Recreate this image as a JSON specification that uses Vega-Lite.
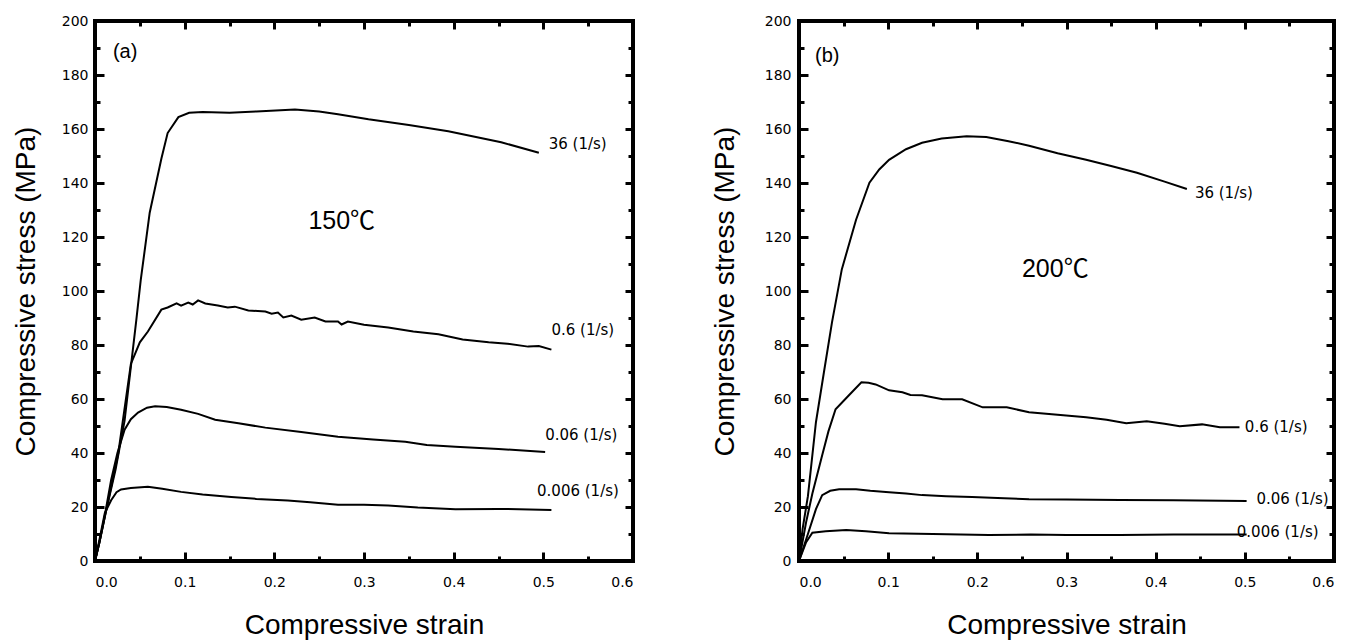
{
  "$schema": "https://vega.github.io/schema/vega-lite/v6.json",
  "background": "white",
  "padding": {"left": 10, "top": 12, "right": 5, "bottom": 0},
  "spacing": 72,
  "config": {
    "view": {"stroke": "black", "strokeWidth": 4},
    "font": "Liberation Sans",
    "axis": {"labelFont": "DejaVu Sans", "titleFont": "Liberation Sans", "labelColor": "black", "titleColor": "black", "tickColor": "black", "grid": false}
  },
  "datasets": {
    "a": [
      {"rate": "36", "strain": 0, "stress": 0}, {"rate": "36", "strain": 0.005, "stress": 7}, {"rate": "36", "strain": 0.012, "stress": 18}, {"rate": "36", "strain": 0.023, "stress": 34}, {"rate": "36", "strain": 0.033, "stress": 52}, {"rate": "36", "strain": 0.046, "stress": 89}, {"rate": "36", "strain": 0.051, "stress": 104}, {"rate": "36", "strain": 0.061, "stress": 129}, {"rate": "36", "strain": 0.074, "stress": 149}, {"rate": "36", "strain": 0.081, "stress": 158.5}, {"rate": "36", "strain": 0.093, "stress": 164.4}, {"rate": "36", "strain": 0.105, "stress": 166}, {"rate": "36", "strain": 0.12, "stress": 166.3}, {"rate": "36", "strain": 0.15, "stress": 166}, {"rate": "36", "strain": 0.18, "stress": 166.5}, {"rate": "36", "strain": 0.223, "stress": 167.2}, {"rate": "36", "strain": 0.25, "stress": 166.5}, {"rate": "36", "strain": 0.271, "stress": 165.5}, {"rate": "36", "strain": 0.305, "stress": 163.6}, {"rate": "36", "strain": 0.35, "stress": 161.5}, {"rate": "36", "strain": 0.394, "stress": 159.2}, {"rate": "36", "strain": 0.453, "stress": 155.1}, {"rate": "36", "strain": 0.495, "stress": 151.2},
      {"rate": "0.6", "strain": 0, "stress": 0}, {"rate": "0.6", "strain": 0.005, "stress": 7}, {"rate": "0.6", "strain": 0.012, "stress": 18}, {"rate": "0.6", "strain": 0.026, "stress": 40}, {"rate": "0.6", "strain": 0.04, "stress": 73}, {"rate": "0.6", "strain": 0.05, "stress": 81}, {"rate": "0.6", "strain": 0.059, "stress": 85}, {"rate": "0.6", "strain": 0.074, "stress": 93.1}, {"rate": "0.6", "strain": 0.081, "stress": 93.9}, {"rate": "0.6", "strain": 0.091, "stress": 95.4}, {"rate": "0.6", "strain": 0.096, "stress": 94.6}, {"rate": "0.6", "strain": 0.104, "stress": 95.7}, {"rate": "0.6", "strain": 0.109, "stress": 95}, {"rate": "0.6", "strain": 0.115, "stress": 96.5}, {"rate": "0.6", "strain": 0.123, "stress": 95.4}, {"rate": "0.6", "strain": 0.137, "stress": 94.6}, {"rate": "0.6", "strain": 0.148, "stress": 93.9}, {"rate": "0.6", "strain": 0.156, "stress": 94.2}, {"rate": "0.6", "strain": 0.171, "stress": 92.8}, {"rate": "0.6", "strain": 0.19, "stress": 92.4}, {"rate": "0.6", "strain": 0.197, "stress": 91.6}, {"rate": "0.6", "strain": 0.204, "stress": 92}, {"rate": "0.6", "strain": 0.21, "stress": 90.2}, {"rate": "0.6", "strain": 0.219, "stress": 90.9}, {"rate": "0.6", "strain": 0.23, "stress": 89.4}, {"rate": "0.6", "strain": 0.245, "stress": 90.2}, {"rate": "0.6", "strain": 0.257, "stress": 88.7}, {"rate": "0.6", "strain": 0.271, "stress": 88.7}, {"rate": "0.6", "strain": 0.275, "stress": 87.6}, {"rate": "0.6", "strain": 0.282, "stress": 88.7}, {"rate": "0.6", "strain": 0.3, "stress": 87.5}, {"rate": "0.6", "strain": 0.327, "stress": 86.5}, {"rate": "0.6", "strain": 0.355, "stress": 85}, {"rate": "0.6", "strain": 0.383, "stress": 84}, {"rate": "0.6", "strain": 0.41, "stress": 82}, {"rate": "0.6", "strain": 0.439, "stress": 81}, {"rate": "0.6", "strain": 0.46, "stress": 80.5}, {"rate": "0.6", "strain": 0.483, "stress": 79.4}, {"rate": "0.6", "strain": 0.495, "stress": 79.6}, {"rate": "0.6", "strain": 0.509, "stress": 78.3},
      {"rate": "0.06", "strain": 0, "stress": 0}, {"rate": "0.06", "strain": 0.005, "stress": 7}, {"rate": "0.06", "strain": 0.011, "stress": 17}, {"rate": "0.06", "strain": 0.018, "stress": 30}, {"rate": "0.06", "strain": 0.025, "stress": 40}, {"rate": "0.06", "strain": 0.033, "stress": 48.6}, {"rate": "0.06", "strain": 0.04, "stress": 52.5}, {"rate": "0.06", "strain": 0.048, "stress": 55}, {"rate": "0.06", "strain": 0.058, "stress": 56.8}, {"rate": "0.06", "strain": 0.067, "stress": 57.3}, {"rate": "0.06", "strain": 0.08, "stress": 57}, {"rate": "0.06", "strain": 0.096, "stress": 56}, {"rate": "0.06", "strain": 0.115, "stress": 54.5}, {"rate": "0.06", "strain": 0.134, "stress": 52.3}, {"rate": "0.06", "strain": 0.16, "stress": 51}, {"rate": "0.06", "strain": 0.19, "stress": 49.4}, {"rate": "0.06", "strain": 0.23, "stress": 47.8}, {"rate": "0.06", "strain": 0.271, "stress": 46}, {"rate": "0.06", "strain": 0.31, "stress": 45}, {"rate": "0.06", "strain": 0.346, "stress": 44.2}, {"rate": "0.06", "strain": 0.37, "stress": 43}, {"rate": "0.06", "strain": 0.402, "stress": 42.3}, {"rate": "0.06", "strain": 0.45, "stress": 41.5}, {"rate": "0.06", "strain": 0.502, "stress": 40.4},
      {"rate": "0.006", "strain": 0, "stress": 0}, {"rate": "0.006", "strain": 0.005, "stress": 8}, {"rate": "0.006", "strain": 0.011, "stress": 17.8}, {"rate": "0.006", "strain": 0.018, "stress": 22.5}, {"rate": "0.006", "strain": 0.024, "stress": 25.5}, {"rate": "0.006", "strain": 0.029, "stress": 26.5}, {"rate": "0.006", "strain": 0.04, "stress": 27}, {"rate": "0.006", "strain": 0.059, "stress": 27.5}, {"rate": "0.006", "strain": 0.075, "stress": 26.8}, {"rate": "0.006", "strain": 0.096, "stress": 25.6}, {"rate": "0.006", "strain": 0.12, "stress": 24.6}, {"rate": "0.006", "strain": 0.152, "stress": 23.7}, {"rate": "0.006", "strain": 0.18, "stress": 23}, {"rate": "0.006", "strain": 0.215, "stress": 22.4}, {"rate": "0.006", "strain": 0.24, "stress": 21.8}, {"rate": "0.006", "strain": 0.271, "stress": 20.8}, {"rate": "0.006", "strain": 0.3, "stress": 20.8}, {"rate": "0.006", "strain": 0.327, "stress": 20.6}, {"rate": "0.006", "strain": 0.36, "stress": 19.8}, {"rate": "0.006", "strain": 0.402, "stress": 19.2}, {"rate": "0.006", "strain": 0.45, "stress": 19.3}, {"rate": "0.006", "strain": 0.509, "stress": 18.9}
    ],
    "b": [
      {"rate": "36", "strain": 0, "stress": 0}, {"rate": "36", "strain": 0.004, "stress": 11.8}, {"rate": "36", "strain": 0.01, "stress": 24}, {"rate": "36", "strain": 0.019, "stress": 51.4}, {"rate": "36", "strain": 0.028, "stress": 70}, {"rate": "36", "strain": 0.037, "stress": 88.4}, {"rate": "36", "strain": 0.048, "stress": 108}, {"rate": "36", "strain": 0.064, "stress": 126.4}, {"rate": "36", "strain": 0.079, "stress": 140.1}, {"rate": "36", "strain": 0.09, "stress": 145}, {"rate": "36", "strain": 0.101, "stress": 148.6}, {"rate": "36", "strain": 0.12, "stress": 152.5}, {"rate": "36", "strain": 0.138, "stress": 154.9}, {"rate": "36", "strain": 0.16, "stress": 156.5}, {"rate": "36", "strain": 0.188, "stress": 157.3}, {"rate": "36", "strain": 0.21, "stress": 157}, {"rate": "36", "strain": 0.235, "stress": 155.5}, {"rate": "36", "strain": 0.258, "stress": 153.8}, {"rate": "36", "strain": 0.29, "stress": 151}, {"rate": "36", "strain": 0.322, "stress": 148.6}, {"rate": "36", "strain": 0.35, "stress": 146.3}, {"rate": "36", "strain": 0.379, "stress": 143.8}, {"rate": "36", "strain": 0.41, "stress": 140.5}, {"rate": "36", "strain": 0.435, "stress": 137.8},
      {"rate": "0.6", "strain": 0, "stress": 0}, {"rate": "0.6", "strain": 0.008, "stress": 14.4}, {"rate": "0.6", "strain": 0.015, "stress": 25}, {"rate": "0.6", "strain": 0.026, "stress": 39.2}, {"rate": "0.6", "strain": 0.033, "stress": 48}, {"rate": "0.6", "strain": 0.041, "stress": 56.2}, {"rate": "0.6", "strain": 0.056, "stress": 61.4}, {"rate": "0.6", "strain": 0.07, "stress": 66.2}, {"rate": "0.6", "strain": 0.078, "stress": 66}, {"rate": "0.6", "strain": 0.086, "stress": 65.4}, {"rate": "0.6", "strain": 0.101, "stress": 63.2}, {"rate": "0.6", "strain": 0.116, "stress": 62.5}, {"rate": "0.6", "strain": 0.125, "stress": 61.5}, {"rate": "0.6", "strain": 0.138, "stress": 61.4}, {"rate": "0.6", "strain": 0.161, "stress": 59.9}, {"rate": "0.6", "strain": 0.183, "stress": 59.9}, {"rate": "0.6", "strain": 0.206, "stress": 56.9}, {"rate": "0.6", "strain": 0.233, "stress": 56.9}, {"rate": "0.6", "strain": 0.258, "stress": 55.1}, {"rate": "0.6", "strain": 0.29, "stress": 54.2}, {"rate": "0.6", "strain": 0.322, "stress": 53.2}, {"rate": "0.6", "strain": 0.345, "stress": 52.3}, {"rate": "0.6", "strain": 0.367, "stress": 51}, {"rate": "0.6", "strain": 0.39, "stress": 51.8}, {"rate": "0.6", "strain": 0.41, "stress": 50.8}, {"rate": "0.6", "strain": 0.427, "stress": 49.9}, {"rate": "0.6", "strain": 0.452, "stress": 50.6}, {"rate": "0.6", "strain": 0.472, "stress": 49.5}, {"rate": "0.6", "strain": 0.494, "stress": 49.5},
      {"rate": "0.06", "strain": 0, "stress": 0}, {"rate": "0.06", "strain": 0.01, "stress": 10}, {"rate": "0.06", "strain": 0.019, "stress": 19.2}, {"rate": "0.06", "strain": 0.026, "stress": 24.4}, {"rate": "0.06", "strain": 0.035, "stress": 26}, {"rate": "0.06", "strain": 0.045, "stress": 26.6}, {"rate": "0.06", "strain": 0.064, "stress": 26.6}, {"rate": "0.06", "strain": 0.08, "stress": 26}, {"rate": "0.06", "strain": 0.101, "stress": 25.5}, {"rate": "0.06", "strain": 0.12, "stress": 25}, {"rate": "0.06", "strain": 0.138, "stress": 24.4}, {"rate": "0.06", "strain": 0.165, "stress": 24}, {"rate": "0.06", "strain": 0.194, "stress": 23.7}, {"rate": "0.06", "strain": 0.23, "stress": 23.2}, {"rate": "0.06", "strain": 0.258, "stress": 22.9}, {"rate": "0.06", "strain": 0.3, "stress": 22.8}, {"rate": "0.06", "strain": 0.36, "stress": 22.6}, {"rate": "0.06", "strain": 0.42, "stress": 22.5}, {"rate": "0.06", "strain": 0.502, "stress": 22.2},
      {"rate": "0.006", "strain": 0, "stress": 0}, {"rate": "0.006", "strain": 0.008, "stress": 7}, {"rate": "0.006", "strain": 0.015, "stress": 10.5}, {"rate": "0.006", "strain": 0.03, "stress": 11}, {"rate": "0.006", "strain": 0.053, "stress": 11.5}, {"rate": "0.006", "strain": 0.075, "stress": 11}, {"rate": "0.006", "strain": 0.101, "stress": 10.3}, {"rate": "0.006", "strain": 0.15, "stress": 10}, {"rate": "0.006", "strain": 0.213, "stress": 9.6}, {"rate": "0.006", "strain": 0.26, "stress": 9.8}, {"rate": "0.006", "strain": 0.3, "stress": 9.6}, {"rate": "0.006", "strain": 0.36, "stress": 9.6}, {"rate": "0.006", "strain": 0.42, "stress": 9.8}, {"rate": "0.006", "strain": 0.502, "stress": 9.8}
    ],
    "la": [
      {"label": "36 (1/s)", "strain": 0.506, "stress": 154.4},
      {"label": "0.6 (1/s)", "strain": 0.509, "stress": 85.7},
      {"label": "0.06 (1/s)", "strain": 0.502, "stress": 46.8},
      {"label": "0.006 (1/s)", "strain": 0.493, "stress": 26}
    ],
    "lb": [
      {"label": "36 (1/s)", "strain": 0.444, "stress": 136.4},
      {"label": "0.6 (1/s)", "strain": 0.5, "stress": 49.5},
      {"label": "0.06 (1/s)", "strain": 0.513, "stress": 22.9},
      {"label": "0.006 (1/s)", "strain": 0.491, "stress": 10.7}
    ],
    "ta": [
      {"label": "(a)", "strain": 0.02, "stress": 188.5, "size": "s"},
      {"label": "150℃", "strain": 0.238, "stress": 125.8, "size": "l"}
    ],
    "tb": [
      {"label": "(b)", "strain": 0.018, "stress": 187, "size": "s"},
      {"label": "200℃", "strain": 0.25, "stress": 108, "size": "l"}
    ]
  },
  "hconcat": [
    {
      "width": 538, "height": 540,
      "resolve": {"axis": {"x": "independent", "y": "independent"}},
      "layer": [
        {
          "data": {"name": "a"},
          "mark": {"type": "line", "color": "black", "strokeWidth": 2},
          "encoding": {
            "x": {"field": "strain", "type": "quantitative", "scale": {"domain": [0, 0.6], "nice": false},
              "axis": {"orient": "bottom", "values": [0, 0.1, 0.2, 0.3, 0.4, 0.5, 0.6], "format": ".1f", "ticks": false, "domain": false, "labelPadding": 14, "labelFontSize": 14, "title": "Compressive strain", "titleFontSize": 28, "titleFontWeight": "normal", "titlePadding": 22}},
            "y": {"field": "stress", "type": "quantitative", "scale": {"domain": [0, 200], "nice": false},
              "axis": {"orient": "left", "values": [0, 20, 40, 60, 80, 100, 120, 140, 160, 180, 200], "ticks": false, "domain": false, "labelPadding": 7, "labelFontSize": 14, "title": "Compressive stress (MPa)", "titleFontSize": 28, "titleFontWeight": "normal", "titlePadding": 21}},
            "detail": {"field": "rate"}
          }
        },
        {
          "data": {"name": "a"},
          "mark": {"type": "point", "opacity": 0},
          "encoding": {
            "x": {"field": "strain", "type": "quantitative", "scale": {"domain": [0, 0.6], "nice": false},
              "axis": {"orient": "bottom", "values": [0.1, 0.2, 0.3, 0.4, 0.5], "labels": false, "domain": false, "title": null, "tickSize": 9, "tickWidth": 3, "offset": -9}},
            "y": {"field": "stress", "type": "quantitative", "scale": {"domain": [0, 200], "nice": false},
              "axis": {"orient": "left", "values": [20, 40, 60, 80, 100, 120, 140, 160, 180], "labels": false, "domain": false, "title": null, "tickSize": 9, "tickWidth": 3, "offset": -9}}
          }
        },
        {
          "data": {"name": "a"},
          "mark": {"type": "point", "opacity": 0},
          "encoding": {
            "x": {"field": "strain", "type": "quantitative", "scale": {"domain": [0, 0.6], "nice": false},
              "axis": {"orient": "bottom", "values": [0.05, 0.15, 0.25, 0.35, 0.45, 0.55], "labels": false, "domain": false, "title": null, "tickSize": 5, "tickWidth": 3, "offset": -5}},
            "y": {"field": "stress", "type": "quantitative", "scale": {"domain": [0, 200], "nice": false},
              "axis": {"orient": "left", "values": [10, 30, 50, 70, 90, 110, 130, 150, 170, 190], "labels": false, "domain": false, "title": null, "tickSize": 5, "tickWidth": 3, "offset": -5}}
          }
        },
        {
          "data": {"name": "a"},
          "mark": {"type": "point", "opacity": 0},
          "encoding": {
            "x": {"field": "strain", "type": "quantitative", "scale": {"domain": [0, 0.6], "nice": false},
              "axis": {"orient": "top", "values": [0.1, 0.2, 0.3, 0.4, 0.5], "labels": false, "domain": false, "title": null, "tickSize": 8, "tickWidth": 3, "offset": -8}},
            "y": {"field": "stress", "type": "quantitative", "scale": {"domain": [0, 200], "nice": false},
              "axis": {"orient": "right", "values": [20, 40, 60, 80, 100, 120, 140, 160, 180], "labels": false, "domain": false, "title": null, "tickSize": 8, "tickWidth": 3, "offset": -8}}
          }
        },
        {
          "data": {"name": "a"},
          "mark": {"type": "point", "opacity": 0},
          "encoding": {
            "x": {"field": "strain", "type": "quantitative", "scale": {"domain": [0, 0.6], "nice": false},
              "axis": {"orient": "top", "values": [0.05, 0.15, 0.25, 0.35, 0.45, 0.55], "labels": false, "domain": false, "title": null, "tickSize": 5, "tickWidth": 3, "offset": -5}},
            "y": {"field": "stress", "type": "quantitative", "scale": {"domain": [0, 200], "nice": false},
              "axis": {"orient": "right", "values": [10, 30, 50, 70, 90, 110, 130, 150, 170, 190], "labels": false, "domain": false, "title": null, "tickSize": 5, "tickWidth": 3, "offset": -5}}
          }
        },
        {
          "data": {"name": "la"},
          "mark": {"type": "text", "align": "left", "baseline": "middle", "fontSize": 15, "font": "DejaVu Sans", "color": "black"},
          "encoding": {
            "x": {"field": "strain", "type": "quantitative", "scale": {"domain": [0, 0.6], "nice": false}, "axis": null},
            "y": {"field": "stress", "type": "quantitative", "scale": {"domain": [0, 200], "nice": false}, "axis": null},
            "text": {"field": "label"}
          }
        },
        {
          "data": {"name": "ta"},
          "mark": {"type": "text", "align": "left", "baseline": "middle", "font": "Liberation Sans, Noto Sans CJK SC", "color": "black"},
          "encoding": {
            "x": {"field": "strain", "type": "quantitative", "scale": {"domain": [0, 0.6], "nice": false}, "axis": null},
            "y": {"field": "stress", "type": "quantitative", "scale": {"domain": [0, 200], "nice": false}, "axis": null},
            "text": {"field": "label"},
            "size": {"field": "size", "type": "nominal", "scale": {"domain": ["s", "l"], "range": [20, 25]}, "legend": null}
          }
        }
      ]
    },
    {
      "width": 535, "height": 540,
      "resolve": {"axis": {"x": "independent", "y": "independent"}},
      "layer": [
        {
          "data": {"name": "b"},
          "mark": {"type": "line", "color": "black", "strokeWidth": 2},
          "encoding": {
            "x": {"field": "strain", "type": "quantitative", "scale": {"domain": [0, 0.6], "nice": false},
              "axis": {"orient": "bottom", "values": [0, 0.1, 0.2, 0.3, 0.4, 0.5, 0.6], "format": ".1f", "ticks": false, "domain": false, "labelPadding": 14, "labelFontSize": 14, "title": "Compressive strain", "titleFontSize": 28, "titleFontWeight": "normal", "titlePadding": 22}},
            "y": {"field": "stress", "type": "quantitative", "scale": {"domain": [0, 200], "nice": false},
              "axis": {"orient": "left", "values": [0, 20, 40, 60, 80, 100, 120, 140, 160, 180, 200], "ticks": false, "domain": false, "labelPadding": 8, "labelFontSize": 14, "title": "Compressive stress (MPa)", "titleFontSize": 28, "titleFontWeight": "normal", "titlePadding": 25}},
            "detail": {"field": "rate"}
          }
        },
        {
          "data": {"name": "b"},
          "mark": {"type": "point", "opacity": 0},
          "encoding": {
            "x": {"field": "strain", "type": "quantitative", "scale": {"domain": [0, 0.6], "nice": false},
              "axis": {"orient": "bottom", "values": [0.1, 0.2, 0.3, 0.4, 0.5], "labels": false, "domain": false, "title": null, "tickSize": 9, "tickWidth": 3, "offset": -9}},
            "y": {"field": "stress", "type": "quantitative", "scale": {"domain": [0, 200], "nice": false},
              "axis": {"orient": "left", "values": [20, 40, 60, 80, 100, 120, 140, 160, 180], "labels": false, "domain": false, "title": null, "tickSize": 9, "tickWidth": 3, "offset": -9}}
          }
        },
        {
          "data": {"name": "b"},
          "mark": {"type": "point", "opacity": 0},
          "encoding": {
            "x": {"field": "strain", "type": "quantitative", "scale": {"domain": [0, 0.6], "nice": false},
              "axis": {"orient": "bottom", "values": [0.05, 0.15, 0.25, 0.35, 0.45, 0.55], "labels": false, "domain": false, "title": null, "tickSize": 5, "tickWidth": 3, "offset": -5}},
            "y": {"field": "stress", "type": "quantitative", "scale": {"domain": [0, 200], "nice": false},
              "axis": {"orient": "left", "values": [10, 30, 50, 70, 90, 110, 130, 150, 170, 190], "labels": false, "domain": false, "title": null, "tickSize": 5, "tickWidth": 3, "offset": -5}}
          }
        },
        {
          "data": {"name": "b"},
          "mark": {"type": "point", "opacity": 0},
          "encoding": {
            "x": {"field": "strain", "type": "quantitative", "scale": {"domain": [0, 0.6], "nice": false},
              "axis": {"orient": "top", "values": [0.1, 0.2, 0.3, 0.4, 0.5], "labels": false, "domain": false, "title": null, "tickSize": 8, "tickWidth": 3, "offset": -8}},
            "y": {"field": "stress", "type": "quantitative", "scale": {"domain": [0, 200], "nice": false},
              "axis": {"orient": "right", "values": [20, 40, 60, 80, 100, 120, 140, 160, 180], "labels": false, "domain": false, "title": null, "tickSize": 8, "tickWidth": 3, "offset": -8}}
          }
        },
        {
          "data": {"name": "b"},
          "mark": {"type": "point", "opacity": 0},
          "encoding": {
            "x": {"field": "strain", "type": "quantitative", "scale": {"domain": [0, 0.6], "nice": false},
              "axis": {"orient": "top", "values": [0.05, 0.15, 0.25, 0.35, 0.45, 0.55], "labels": false, "domain": false, "title": null, "tickSize": 5, "tickWidth": 3, "offset": -5}},
            "y": {"field": "stress", "type": "quantitative", "scale": {"domain": [0, 200], "nice": false},
              "axis": {"orient": "right", "values": [10, 30, 50, 70, 90, 110, 130, 150, 170, 190], "labels": false, "domain": false, "title": null, "tickSize": 5, "tickWidth": 3, "offset": -5}}
          }
        },
        {
          "data": {"name": "lb"},
          "mark": {"type": "text", "align": "left", "baseline": "middle", "fontSize": 15, "font": "DejaVu Sans", "color": "black"},
          "encoding": {
            "x": {"field": "strain", "type": "quantitative", "scale": {"domain": [0, 0.6], "nice": false}, "axis": null},
            "y": {"field": "stress", "type": "quantitative", "scale": {"domain": [0, 200], "nice": false}, "axis": null},
            "text": {"field": "label"}
          }
        },
        {
          "data": {"name": "tb"},
          "mark": {"type": "text", "align": "left", "baseline": "middle", "font": "Liberation Sans, Noto Sans CJK SC", "color": "black"},
          "encoding": {
            "x": {"field": "strain", "type": "quantitative", "scale": {"domain": [0, 0.6], "nice": false}, "axis": null},
            "y": {"field": "stress", "type": "quantitative", "scale": {"domain": [0, 200], "nice": false}, "axis": null},
            "text": {"field": "label"},
            "size": {"field": "size", "type": "nominal", "scale": {"domain": ["s", "l"], "range": [20, 25]}, "legend": null}
          }
        }
      ]
    }
  ]
}
